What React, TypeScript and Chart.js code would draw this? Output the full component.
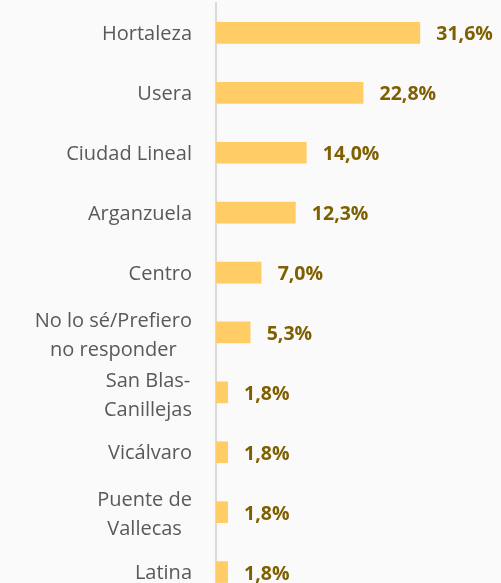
import React, { useEffect, useRef } from "react";
import { Chart, registerables } from "chart.js";

Chart.register(...registerables);

const categories: string[][] = [
  ["Hortaleza"],
  ["Usera"],
  ["Ciudad Lineal"],
  ["Arganzuela"],
  ["Centro"],
  ["No lo sé/Prefiero", "no responder"],
  ["San Blas-", "Canillejas"],
  ["Vicálvaro"],
  ["Puente de", "Vallecas"],
  ["Latina"],
];
const values: number[] = [31.6, 22.8, 14.0, 12.3, 7.0, 5.3, 1.8, 1.8, 1.8, 1.8];
const xMax = 40;

const BAR_COLOR = "#FFCC66";
const LABEL_COLOR = "#595959";
const VALUE_COLOR = "#7F6000";
const BG = "#FAFAFA";
const FONT = "'Open Sans', 'DejaVu Sans', sans-serif";

const fmt = (v: number) => v.toFixed(1).replace(".", ",") + "%";

const labelPlugin = {
  id: "customLabels",
  afterDraw(chart: any) {
    const ctx = chart.ctx as CanvasRenderingContext2D;
    const yScale = chart.scales.y;
    ctx.save();
    // category labels
    ctx.font = `20px ${FONT}`;
    ctx.fillStyle = LABEL_COLOR;
    ctx.textAlign = "center";
    ctx.textBaseline = "alphabetic";
    const rightEdge = 192;
    const lineH = 29;
    const capHalf = 7.2;
    categories.forEach((lines, i) => {
      const cy = yScale.getPixelForValue(i);
      const w = Math.max(...lines.map((l) => ctx.measureText(l).width));
      const cx = rightEdge - w / 2;
      const n = lines.length;
      lines.forEach((line, j) => {
        const ly = cy + (j - (n - 1) / 2) * lineH + capHalf + (n > 1 ? 1.5 : 0);
        ctx.fillText(line, cx, ly);
      });
    });
    // value labels
    ctx.font = `bold 19.5px ${FONT}`;
    ctx.fillStyle = VALUE_COLOR;
    ctx.textAlign = "left";
    const meta = chart.getDatasetMeta(0);
    meta.data.forEach((bar: any, i: number) => {
      ctx.fillText(fmt(values[i]), bar.x + 16.5, bar.y + 7.5);
    });
    ctx.restore();
  },
};

const bgPlugin = {
  id: "bg",
  beforeDraw(chart: any) {
    const ctx = chart.ctx;
    ctx.save();
    ctx.fillStyle = BG;
    ctx.fillRect(0, 0, chart.width, chart.height);
    ctx.restore();
  },
};

export default function App() {
  const ref = useRef<HTMLCanvasElement | null>(null);
  useEffect(() => {
    let chart: Chart | null = null;
    let cancelled = false;
    const make = () => {
      if (cancelled || !ref.current) return;
      chart = new Chart(ref.current, {
        type: "bar",
        data: {
          labels: categories.map((c) => c.join(" ")),
          datasets: [
            {
              data: values,
              backgroundColor: BAR_COLOR,
              borderWidth: 0,
              barThickness: 21,
            },
          ],
        },
        options: {
          indexAxis: "y",
          animation: false,
          responsive: false,
          layout: { padding: { top: 3, bottom: 1, left: 0, right: 27 } },
          plugins: {
            legend: { display: false },
            tooltip: { enabled: false },
          },
          scales: {
            x: {
              display: false,
              min: 0,
              max: xMax,
            },
            y: {
              ticks: { display: false },
              grid: { display: true, drawOnChartArea: false, drawTicks: false },
              border: { display: true, color: "#D9D9D9", width: 2 },
              afterFit: (s: any) => {
                s.width = 216;
              },
            },
          },
        },
        plugins: [bgPlugin, labelPlugin],
      });
    };
    Promise.all([
      document.fonts.load(`20px 'Open Sans'`),
      document.fonts.load(`bold 20px 'Open Sans'`),
    ])
      .catch(() => {})
      .then(make);
    return () => {
      cancelled = true;
      if (chart) chart.destroy();
    };
  }, []);
  return (
    <div
      style={{
        position: "fixed",
        left: 0,
        top: 0,
        width: 501,
        height: 583,
        overflow: "hidden",
        background: BG,
      }}
    >
      <canvas ref={ref} width={501} height={603} style={{ width: 501, height: 603, display: "block" }} />
    </div>
  );
}
